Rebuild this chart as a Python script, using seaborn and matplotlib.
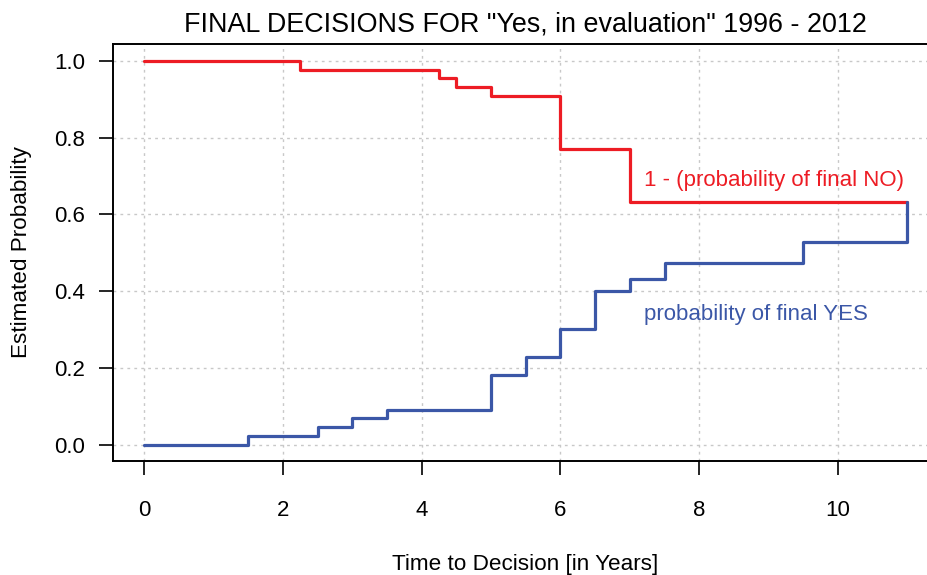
import matplotlib
matplotlib.use("Agg")
import matplotlib.pyplot as plt
import seaborn as sns
import pandas as pd

# Data
no_times = [0, 2.25, 4.25, 4.5, 5.0, 6.0, 7.0, 11.0]
no_values = [1.0, 0.977, 0.955, 0.932, 0.909, 0.770, 0.632, 0.632]

yes_times = [0, 1.5, 2.5, 3.0, 3.5, 5.0, 5.5, 6.0, 6.5, 7.0, 7.5, 9.5, 11.0]
yes_values = [0.0, 0.023, 0.045, 0.068, 0.091, 0.182, 0.227, 0.300, 0.400, 0.432, 0.474, 0.528, 0.632]

x_ticks = [0, 2, 4, 6, 8, 10]
y_ticks = [0.0, 0.2, 0.4, 0.6, 0.8, 1.0]
y_ticklabels = ["0.0", "0.2", "0.4", "0.6", "0.8", "1.0"]

title = 'FINAL DECISIONS FOR "Yes, in evaluation" 1996 - 2012'
xlabel = "Time to Decision [in Years]"
ylabel = "Estimated Probability"
no_label = "1 - (probability of final NO)"
yes_label = "probability of final YES"

RED = "#ED1C24"
BLUE = "#3B57A7"

sns.set_theme(style="white")
plt.rcParams["font.family"] = ["Liberation Sans", "DejaVu Sans"]

fig = plt.figure(figsize=(9.28, 5.75), dpi=100)
ax = fig.add_axes([113 / 928, 1 - 460.7 / 575, (938 - 113) / 928, (460.7 - 44) / 575])

df_no = pd.DataFrame({"t": no_times, "p": no_values})
df_yes = pd.DataFrame({"t": yes_times, "p": yes_values})

sns.lineplot(data=df_no, x="t", y="p", ax=ax, color=RED, linewidth=2.3,
             drawstyle="steps-post", estimator=None, sort=False, zorder=3)
sns.lineplot(data=df_yes, x="t", y="p", ax=ax, color=BLUE, linewidth=2.3,
             drawstyle="steps-post", estimator=None, sort=False, zorder=3)

ax.set_xlim(-0.447, 11.44)
ax.set_ylim(-0.042, 1.044)
ax.set_xticks(x_ticks)
ax.set_yticks(y_ticks)
ax.set_yticklabels(y_ticklabels)

ax.grid(True, color="#C8C8C8", linestyle=(0, (2, 3)), linewidth=1.0, zorder=0)
ax.set_axisbelow(True)

for s in ["left", "top", "bottom", "right"]:
    ax.spines[s].set_visible(True)
    ax.spines[s].set_color("black")
    ax.spines[s].set_linewidth(1.4)

ax.tick_params(axis="both", which="major", direction="out", length=10, width=1.2,
               color="black", labelsize=16, labelcolor="black",
               bottom=True, left=True, top=False, right=False)
ax.tick_params(axis="x", pad=18)
ax.tick_params(axis="y", pad=10)

ax.set_xlabel(xlabel, fontsize=16.2, labelpad=24, color="black")
ax.set_ylabel(ylabel, fontsize=16.2, labelpad=16, color="black")
ax.set_title(title, fontsize=19.4, pad=9, color="black")

ax.text(7.2, 0.675, no_label, color=RED, fontsize=16, va="baseline", ha="left")
ax.text(7.2, 0.325, yes_label, color=BLUE, fontsize=16, va="baseline", ha="left")

fig.savefig("out.png", dpi=100)
